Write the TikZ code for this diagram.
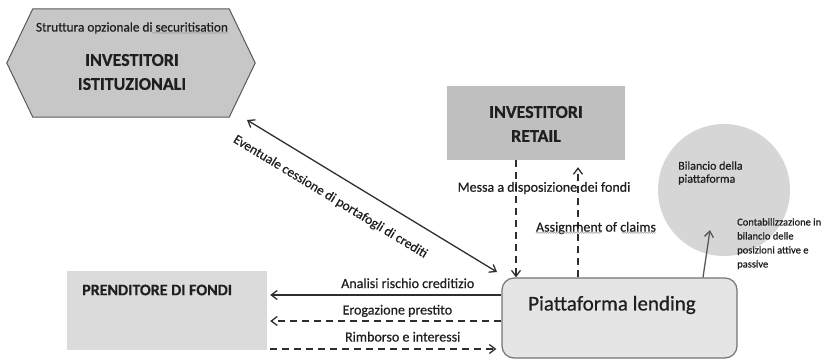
\documentclass[tikz,border=0pt]{standalone}
\usepackage{fontspec}
\setmainfont{Carlito}[FakeBold=0.6]
\usetikzlibrary{arrows.meta,calc,decorations.pathmorphing}
\definecolor{txt}{gray}{0.12}
\definecolor{lin}{gray}{0.18}
\definecolor{hexfill}{gray}{0.78}
\definecolor{hexline}{gray}{0.35}
\definecolor{retfill}{gray}{0.75}
\definecolor{prefill}{gray}{0.86}
\definecolor{circfill}{gray}{0.84}
\definecolor{piatfill}{gray}{0.9}
\definecolor{piatline}{gray}{0.45}
\tikzset{
  lbl/.style={text=txt, inner sep=0pt, font=\fontsize{14}{16}\selectfont},
  title/.style={text=txt, inner sep=0pt, align=center, font=\bfseries\fontsize{18}{24}\selectfont},
  solidarrow/.style={draw=lin, line width=1.3pt, -{Straight Barb[length=6pt,width=9pt]}},
  dasharrow/.style={draw=lin, line width=1.3pt, dash pattern=on 7pt off 5pt, -{Straight Barb[length=6pt,width=9pt]}},
  boxnode/.style={inner sep=0pt},
  squiggle/.style={draw=gray!70, line width=0.5pt, decorate, decoration={snake, amplitude=0.7pt, segment length=2.2pt}}
}
\begin{document}
\begin{tikzpicture}[x=1pt,y=-1pt]
\useasboundingbox (0,0) rectangle (825,360);

% hexagon
\node[boxnode, minimum width=248pt, minimum height=108pt] (hex) at (131,63) {};
\draw[draw=hexline, fill=hexfill, line width=1pt] (hex.west) -- ($(hex.north west)+(26,0)$) -- ($(hex.north east)+(-26,0)$) -- (hex.east) -- ($(hex.south east)+(-26,0)$) -- ($(hex.south west)+(26,0)$) -- cycle;
\node[text=txt, inner sep=0pt, font=\fontsize{13.3}{15}\selectfont] (hexsub) at (132,28) {Struttura opzionale di securitisation};
\draw[squiggle] ($(hexsub.south east)+(-76,-1)$) -- ($(hexsub.south east)+(0,-1)$);
\node[title] (hextxt) at (132,72) {INVESTITORI\\ISTITUZIONALI};

% retail
\node[boxnode, fill=retfill, minimum width=178pt, minimum height=74pt] (ret) at (536,123) {};
\node[title] (rettxt) at (536,124) {INVESTITORI\\RETAIL};

% circle
\node[circle, fill=circfill, minimum size=132pt, inner sep=0pt] (bil) at (724,190) {};
\node[text=txt, inner sep=0pt, anchor=west, align=left, font=\fontsize{12}{13}\selectfont] (biltxt) at (678,173) {Bilancio della\\piattaforma};
\node[text=txt, inner sep=0pt, anchor=north west, align=left, font=\fontsize{10.5}{14}\selectfont] (conttxt) at (737,218) {Contabilizzazione in\\bilancio delle\\posizioni attive e\\passive};

% piattaforma
\node[boxnode, draw=piatline, fill=piatfill, rounded corners=12pt, line width=1.2pt, minimum width=235pt, minimum height=80pt] (piat) at (619.5,318) {};
\node[text=txt, inner sep=0pt, font=\fontsize{21}{24}\selectfont] (piattxt) at (612,305) {Piattaforma lending};

% prenditore
\node[boxnode, fill=prefill, minimum width=200pt, minimum height=79pt] (pre) at (167,310.5) {};
\node[text=txt, inner sep=0pt, anchor=west, font=\bfseries\fontsize{16}{18}\selectfont] (pretxt) at (82,290) {PRENDITORE DI FONDI};

% helper coordinates
\coordinate (yA) at (0,295);
\coordinate (yE) at (0,321);
\coordinate (yR) at (0,349);
\coordinate (xM) at (516,0);
\coordinate (xS) at (578,0);
\coordinate (xB) at (703,0);
\coordinate (bilp) at (710,230);
\coordinate (d1) at (247,120);
\coordinate (d2) at (497,272);

% horizontal arrows
\draw[solidarrow] (piat.west |- yA) -- ($(pre.east |- yA)+(3,0)$)
  node[lbl, pos=0.405, anchor=base, yshift=7pt] (lA) {Analisi rischio creditizio};
\draw[dasharrow] (piat.west |- yE) -- ($(pre.east |- yE)+(3,0)$)
  node[lbl, pos=0.45, anchor=base, yshift=6.5pt] (lE) {Erogazione prestito};
\draw[dasharrow] ($(pre.east |- yR)+(3,0)$) -- ($(piat.west |- yR)+(-5,0)$)
  node[lbl, pos=0.586, anchor=base, yshift=7.5pt] (lR) {Rimborso e interessi};

% vertical arrows
\draw[dasharrow] (ret.south -| xM) -- (piat.north -| xM);
\draw[dasharrow] (piat.north -| xS) -- ($(ret.south -| xS)+(0,7)$);
\node[lbl] (lM) at (544,188) {Messa a disposizione dei fondi};
\node[lbl] (lS) at (596,228) {Assignment of claims};
\draw[squiggle] ($(lS.south west)+(0,-1.5)$) -- ($(lS.south west)+(66,-1.5)$);
\draw[squiggle] ($(lS.south east)+(-34,-1.5)$) -- ($(lS.south east)+(0,-1.5)$);

% diagonal
\draw[draw=lin, line width=1.3pt, {Straight Barb[length=6pt,width=9pt]}-{Straight Barb[length=6pt,width=9pt]}] (d1) -- (d2)
  node[lbl, pos=0.38, sloped, below=16pt, font=\fontsize{13.5}{15}\selectfont] (lD) {Eventuale cessione di portafogli di crediti};

% to circle
\draw[draw=lin!80, line width=1.3pt, -{Straight Barb[length=6pt,width=9pt]}] (piat.north -| xB) -- (bilp);

\end{tikzpicture}
\end{document}
